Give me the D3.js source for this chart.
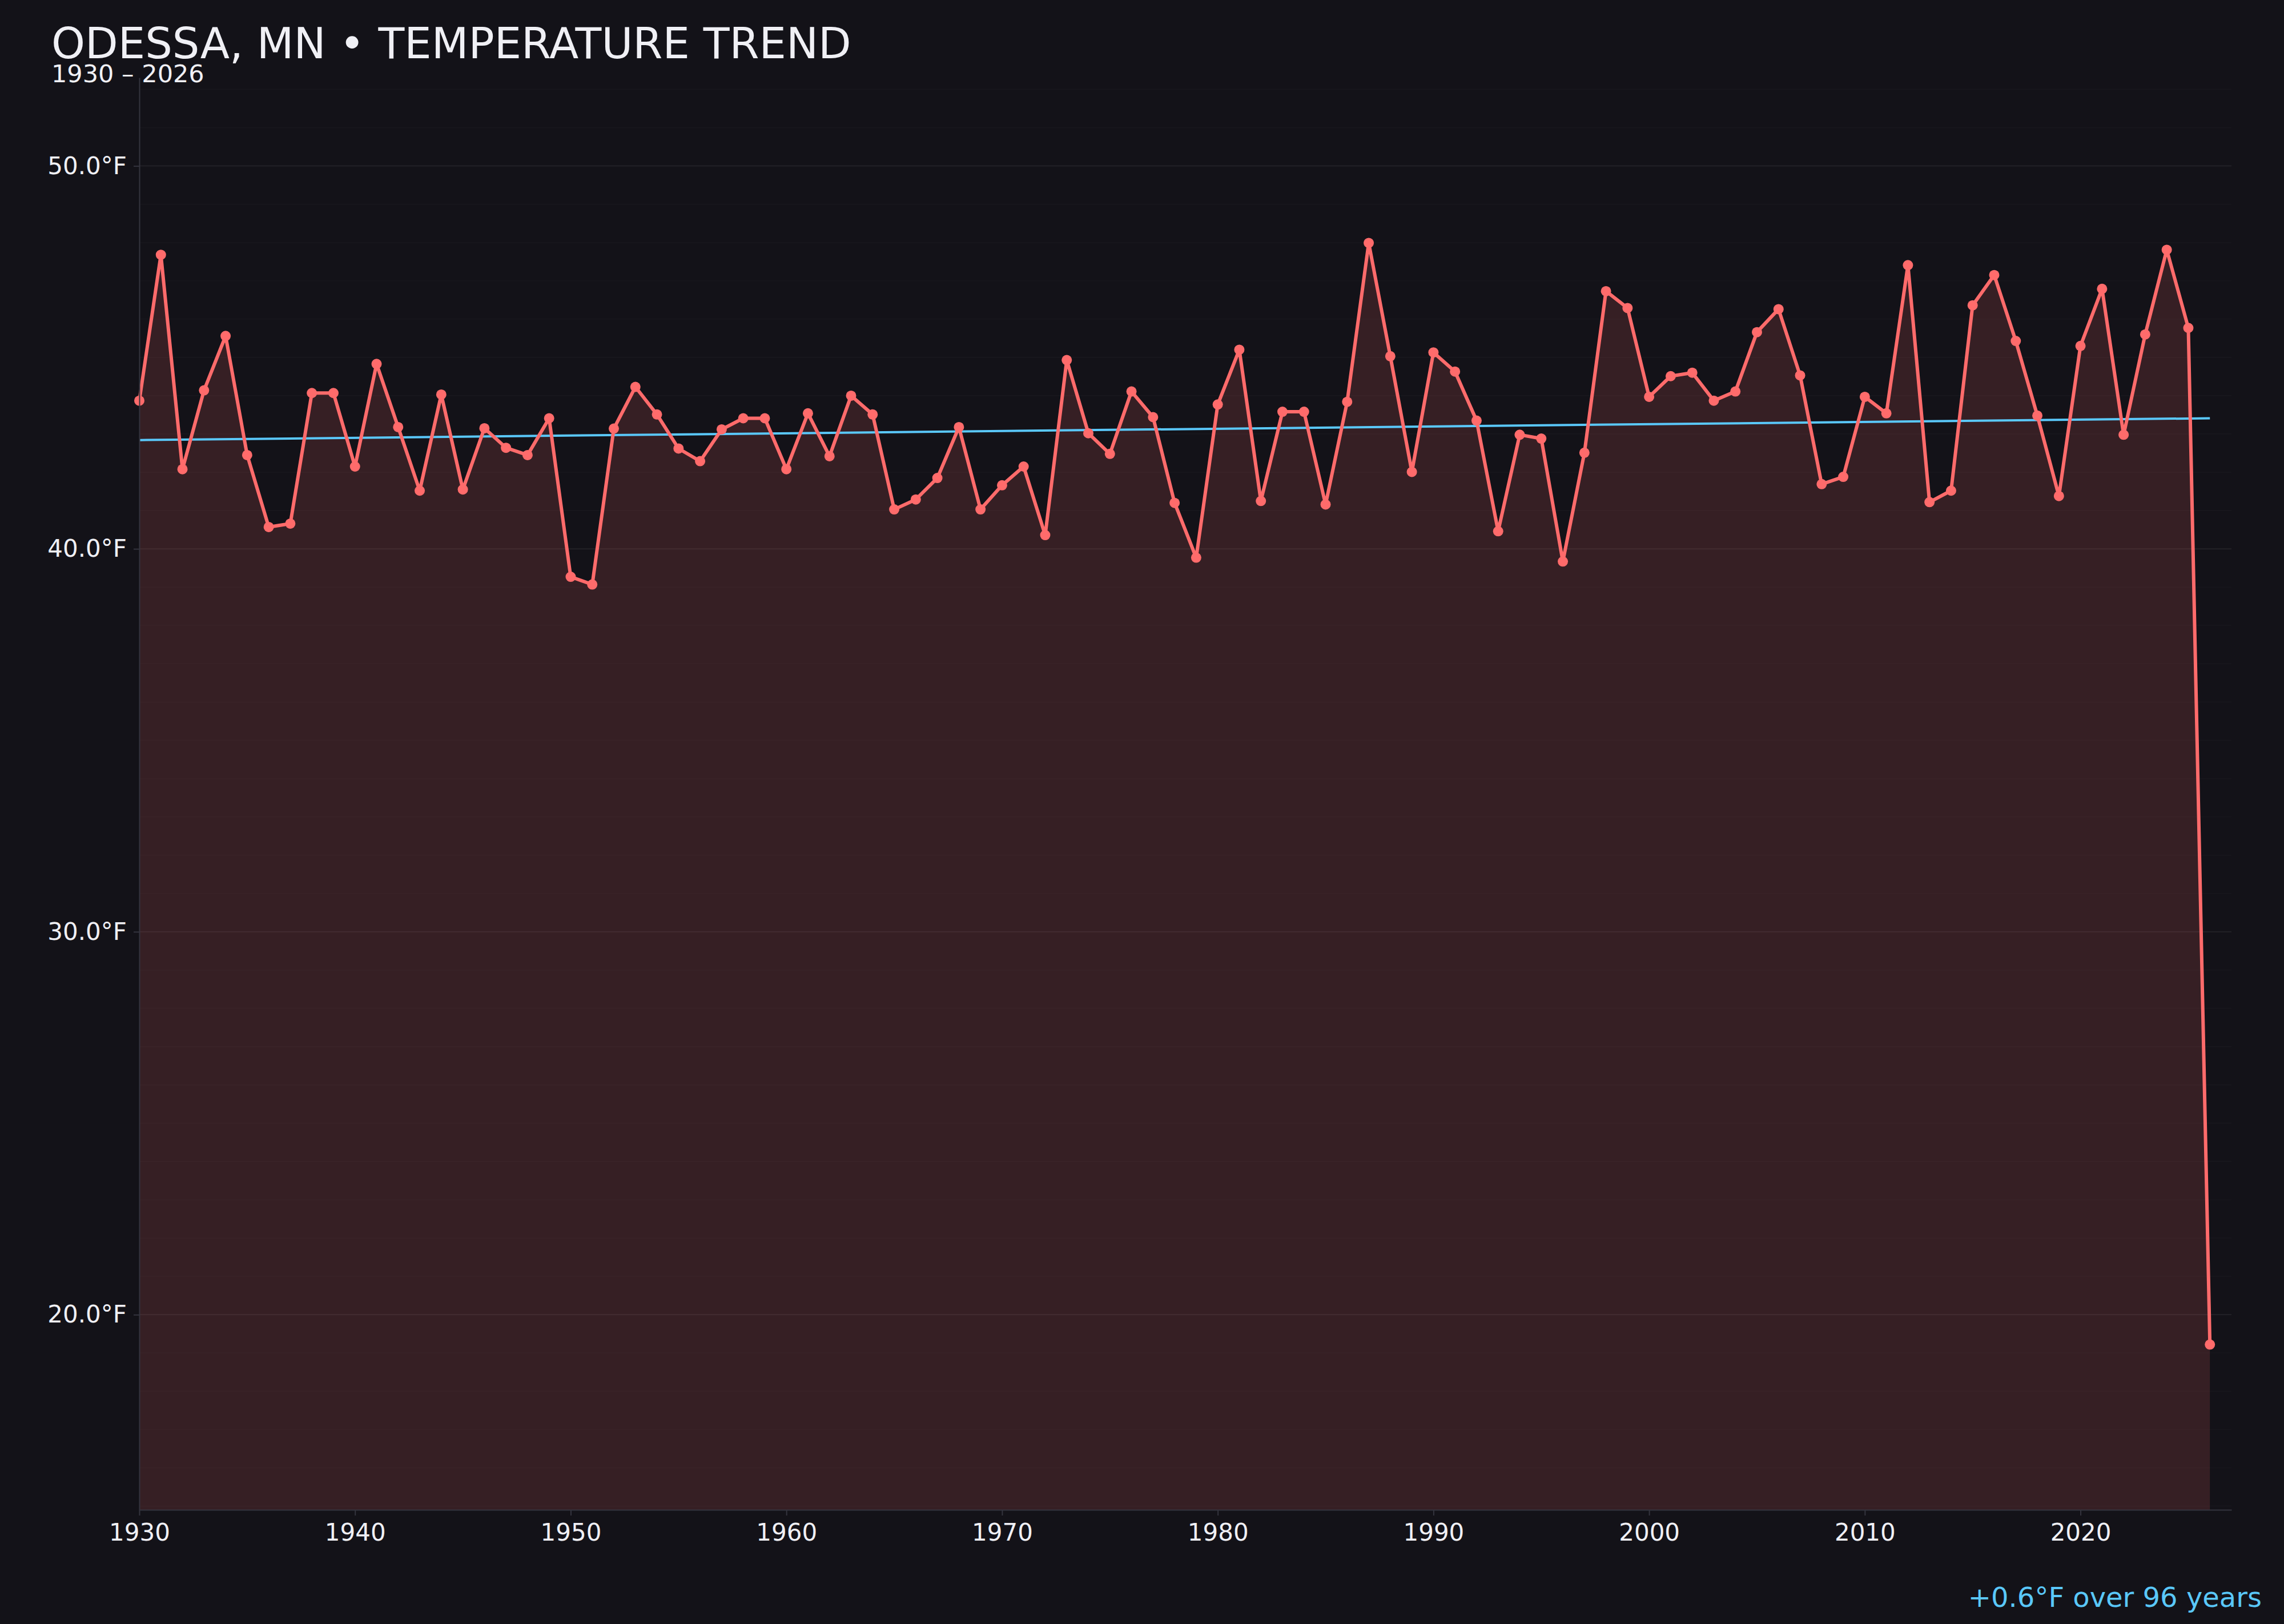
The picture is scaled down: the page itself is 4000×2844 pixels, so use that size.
<!DOCTYPE html>
<meta charset="utf-8">
<style>
	body { margin: 0; background: #131218; }
	svg { display: block; font-family: "DejaVu Sans", sans-serif; }

	.axis path, .axis line {
		stroke: #34343e;
		stroke-width: 2px;
	}
	.axis text {
		fill: #f0f0f5;
		font-family: "DejaVu Sans", sans-serif;
		font-size: 42px;
	}
	.grid--major line { stroke: rgba(255,255,255,0.055); stroke-width: 2px; }
	.grid--minor line { stroke: rgba(255,255,255,0.018); stroke-width: 2px; }

	.area { fill: #ff6b6b; fill-opacity: 0.15; }
	.line {
		fill: none;
		stroke: #ff6b6b;
		stroke-width: 6px;
		stroke-linejoin: round;
	}
	.dot { fill: #ff6b6b; }
	.trend {
		fill: none;
		stroke: #5ac8fa;
		stroke-width: 4px;
	}
</style>
<svg width="4000" height="2844"></svg>
<script src="https://cdn.jsdelivr.net/npm/d3@7"></script>
<script>

// yearly mean temperature, Odessa MN
var years = [
	1930, 1931, 1932, 1933, 1934, 1935, 1936, 1937, 1938, 1939,
	1940, 1941, 1942, 1943, 1944, 1945, 1946, 1947, 1948, 1949,
	1950, 1951, 1952, 1953, 1954, 1955, 1956, 1957, 1958, 1959,
	1960, 1961, 1962, 1963, 1964, 1965, 1966, 1967, 1968, 1969,
	1970, 1971, 1972, 1973, 1974, 1975, 1976, 1977, 1978, 1979,
	1980, 1981, 1982, 1983, 1984, 1985, 1986, 1987, 1988, 1989,
	1990, 1991, 1992, 1993, 1994, 1995, 1996, 1997, 1998, 1999,
	2000, 2001, 2002, 2003, 2004, 2005, 2006, 2007, 2008, 2009,
	2010, 2011, 2012, 2013, 2014, 2015, 2016, 2017, 2018, 2019,
	2020, 2021, 2022, 2023, 2024, 2025, 2026
];

var temps = [
	43.87, 47.68, 42.08, 44.14, 45.56, 42.45, 40.57, 40.66, 44.07, 44.07,
	42.15, 44.83, 43.18, 41.52, 44.03, 41.55, 43.15, 42.64, 42.45, 43.41,
	39.27, 39.07, 43.14, 44.23, 43.51, 42.62, 42.29, 43.12, 43.41, 43.41,
	42.08, 43.54, 42.42, 44.00, 43.51, 41.03, 41.29, 41.85, 43.18, 41.03,
	41.66, 42.15, 40.36, 44.93, 43.02, 42.48, 44.11, 43.44, 41.20, 39.77,
	43.77, 45.20, 41.25, 43.58, 43.58, 41.16, 43.84, 47.99, 45.03, 42.01,
	45.13, 44.63, 43.35, 40.46, 42.98, 42.88, 39.67, 42.51, 46.73, 46.29,
	43.97, 44.51, 44.60, 43.87, 44.11, 45.66, 46.26, 44.53, 41.69, 41.88,
	43.97, 43.54, 47.41, 41.22, 41.52, 46.36, 47.15, 45.43, 43.48, 41.38,
	45.30, 46.79, 42.98, 45.60, 47.81, 45.77, 19.22
];

// linear trend, end points
var trendYears = [1930, 2026];
var trendTemps = [42.84, 43.41];

var xTicks = [1930, 1940, 1950, 1960, 1970, 1980, 1990, 2000, 2010, 2020];
var yTicks = [20, 30, 40, 50];

var title = "ODESSA, MN \u2022 TEMPERATURE TREND",
	subtitle = "1930 \u2013 2026",
	trendLabel = "+0.6\u00b0F over 96 years";

var points = years.map(function(d, i) { return {year: d, temp: temps[i]}; });
var trend = trendYears.map(function(d, i) { return {year: d, temp: trendTemps[i]}; });

var svg = d3.select("svg"),
	margin = {top: 136, right: 92, bottom: 200, left: 244},
	width = +svg.attr("width") - margin.left - margin.right,
	height = +svg.attr("height") - margin.top - margin.bottom,
	g = svg.append("g").attr("transform", "translate(" + margin.left + "," + margin.top + ")");

var ext = d3.extent(temps),
	pad = (ext[1] - ext[0]) * 0.15;

var x = d3.scaleLinear().domain([1930, 2027]).range([0, width]),
	y = d3.scaleLinear().domain([ext[0] - pad, ext[1] + pad]).range([height, 0]);

// gridlines
g.append("g")
	.attr("class", "grid grid--minor")
	.selectAll("line")
	.data(y.ticks(40))
	.enter().append("line")
		.attr("x1", 0)
		.attr("x2", width)
		.attr("y1", function(d) { return y(d); })
		.attr("y2", function(d) { return y(d); });

g.append("g")
	.attr("class", "grid grid--major")
	.selectAll("line")
	.data(yTicks)
	.enter().append("line")
		.attr("x1", 0)
		.attr("x2", width)
		.attr("y1", function(d) { return y(d); })
		.attr("y2", function(d) { return y(d); });

var area = d3.area()
	.x(function(d) { return x(d.year); })
	.y0(height)
	.y1(function(d) { return y(d.temp); });

var line = d3.line()
	.x(function(d) { return x(d.year); })
	.y(function(d) { return y(d.temp); });

g.append("path")
	.datum(points)
	.attr("class", "area")
	.attr("d", area);

g.append("path")
	.datum(trend)
	.attr("class", "trend")
	.attr("d", line);

g.append("path")
	.datum(points)
	.attr("class", "line")
	.attr("d", line);

g.selectAll(".dot")
	.data(points)
	.enter().append("circle")
		.attr("class", "dot")
		.attr("cx", function(d) { return x(d.year); })
		.attr("cy", function(d) { return y(d.temp); })
		.attr("r", 9);

// axes
g.append("g")
	.attr("class", "axis axis--x")
	.attr("transform", "translate(0," + height + ")")
	.call(d3.axisBottom(x)
		.tickValues(xTicks)
		.tickFormat(d3.format("d"))
		.tickSize(10)
		.tickSizeOuter(0)
		.tickPadding(14));

g.append("g")
	.attr("class", "axis axis--y")
	.call(d3.axisLeft(y)
		.tickValues(yTicks)
		.tickFormat(function(d) { return d3.format(".1f")(d) + "\u00b0F"; })
		.tickSize(10)
		.tickSizeOuter(0)
		.tickPadding(12));

g.selectAll(".axis").attr("font-family", null).attr("font-size", null);

// titles
svg.append("text")
	.attr("x", 90)
	.attr("y", 102)
	.attr("fill", "#f0f0f5")
	.style("font-size", "75px")
	.text(title);

svg.append("text")
	.attr("x", 90)
	.attr("y", 144)
	.attr("fill", "#f0f0f5")
	.style("font-size", "43px")
	.text(subtitle);

svg.append("text")
	.attr("x", 3961)
	.attr("y", 2814)
	.attr("text-anchor", "end")
	.attr("fill", "#5ac8fa")
	.style("font-size", "48px")
	.text(trendLabel);

</script>
